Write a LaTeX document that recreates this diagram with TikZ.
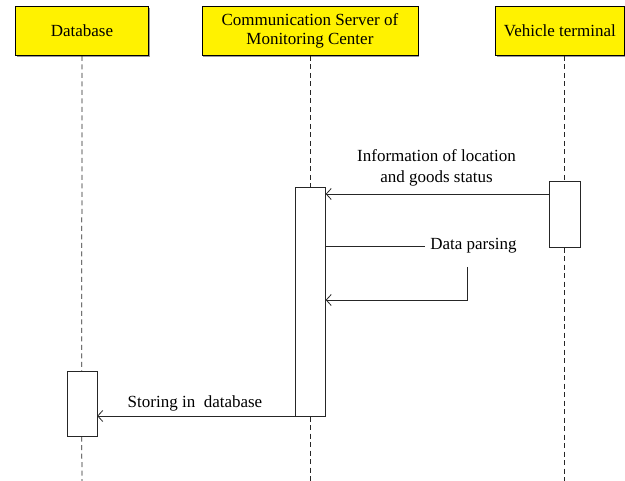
\documentclass[tikz,border=0pt]{standalone}
\usepackage{fontspec}
\setmainfont{Liberation Serif}
\usetikzlibrary{arrows.meta,shadows}
\begin{document}
\begin{tikzpicture}[x=1pt,y=-1pt,
  font=\fontsize{17}{21}\selectfont,
  header/.style={draw=black, line width=0.8pt, fill=yellow, inner sep=0pt,
    align=center, anchor=north west,
    drop shadow={shadow xshift=1.2pt, shadow yshift=-1.2pt, fill=black!40, opacity=1}},
  actbox/.style={draw=black!85, line width=0.7pt, fill=white, inner sep=0pt,
    anchor=north west, minimum width=30pt},
  lifeline/.style={draw=black!85, line width=0.75pt, dash pattern=on 5pt off 3.5pt},
  msg/.style={draw=black!85, line width=0.8pt, -{Straight Barb[length=5pt,width=11pt,line width=0.8pt]}},
  plain/.style={draw=black!85, line width=0.8pt},
  lbl/.style={inner sep=1pt, align=center}]
\useasboundingbox (0,0) rectangle (625,481);

% participant headers
\node[header, minimum width=133pt, minimum height=49pt] (db) at (15,6) {Database};
\node[header, minimum width=216pt, minimum height=49pt] (srv) at (201.5,6)
  {Communication Server of\\[-2pt]Monitoring Center};
\node[header, minimum width=129pt, minimum height=49pt] (veh) at (495,6) {Vehicle terminal};

% activation bars
\node[actbox, minimum height=65pt] (dbact) at (66.5,371) {};
\node[actbox, minimum height=229pt] (srvact) at (295,187) {};
\node[actbox, minimum height=66pt, minimum width=31pt] (vehact) at (549,181) {};

% lifelines
\draw[lifeline] (db.south) -- (dbact.north);
\draw[lifeline] (dbact.south) -- (db.south |- 0,481);
\draw[lifeline] (srv.south -| srvact.north) -- (srvact.north);
\draw[lifeline] (srvact.south) -- (srvact.south |- 0,481);
\draw[lifeline] (veh.south -| vehact.north) -- (vehact.north);
\draw[lifeline] (vehact.south) -- (vehact.south |- 0,481);

% message: terminal -> server
\node[lbl] (m1) at (436.5,167.5) {Information of location\\[0pt]and goods status};
\draw[msg] (vehact.west |- 0,194) -- (srvact.east |- 0,194);

% self message: data parsing
\node[lbl, inner xsep=5pt] (parse) at (473.5,246) {Data parsing};
\coordinate (bend) at (467.5,300);
\draw[plain] (srvact.east |- parse) -- (parse.west);
\draw[msg] (bend |- 0,267) -- (bend) -- (srvact.east |- bend);

% message: server -> database
\node[lbl] (m3) at (195,403) {Storing in\ \ database};
\draw[msg] (srvact.south east |- 0,416) -- (dbact.east |- 0,416);
\end{tikzpicture}
\end{document}
